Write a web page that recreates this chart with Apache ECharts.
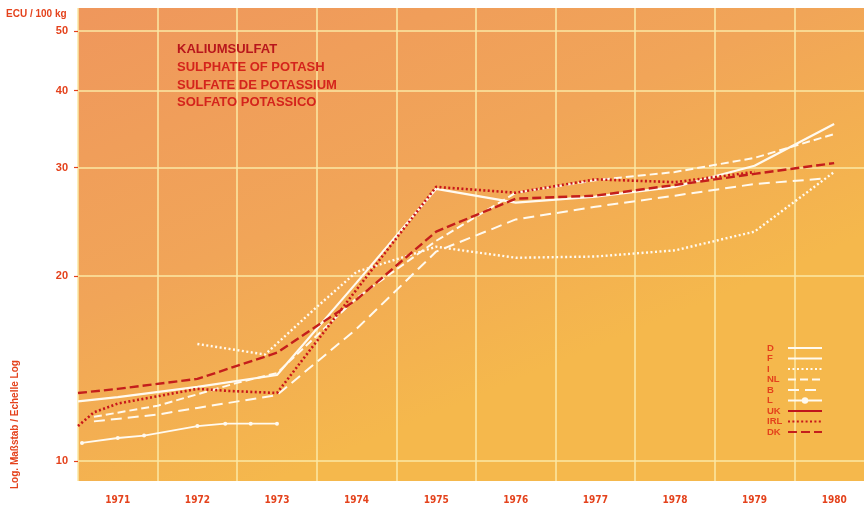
<!DOCTYPE html>
<html>
<head>
<meta charset="utf-8">
<script src="https://cdn.jsdelivr.net/npm/echarts@6/dist/echarts.min.js"></script>
<style>
html, body { margin: 0; padding: 0; background: #fff; }
#chart { width: 864px; height: 510px; }
</style>
</head>
<body>
<div id="chart"></div>
<script>
// year labels sit mid-year, grid lines between the years
const years = [1971, 1972, 1973, 1974, 1975, 1976, 1977, 1978, 1979, 1980]
const yearBounds = [1970.5, 1971.5, 1972.5, 1973.5, 1974.5, 1975.5, 1976.5, 1977.5, 1978.5, 1979.5]
const yTicks = [10, 20, 30, 40, 50]
const countries = ['D', 'F', 'I', 'NL', 'B', 'L', 'UK', 'IRL', 'DK']

// ECU / 100 kg, pairs of [year, price]
const dData = [[1970.5, 12.5], [1971, 12.7], [1972, 13.2], [1973, 13.8], [1974, 19.5], [1975, 27.7], [1976, 26.3], [1977, 26.9], [1978, 27.9], [1979, 30.2], [1980, 35.3]]
const fData = []
const iData = [[1972, 15.5], [1972.85, 14.9], [1973.5, 17.8], [1974, 20.3], [1975, 22.3], [1976, 21.4], [1977, 21.5], [1978, 22.0], [1979, 23.6], [1980, 29.5]]
const nlData = [[1970.7, 11.8], [1971.5, 12.3], [1972.5, 13.4], [1973, 13.9], [1974, 18.4], [1975, 22.8], [1976, 27.3], [1977, 28.6], [1978, 29.5], [1979, 31.1], [1980, 34.0]]
const bData = [[1970.7, 11.6], [1971.5, 11.9], [1972, 12.2], [1973, 12.8], [1974, 16.4], [1975, 21.9], [1976, 24.7], [1977, 25.9], [1978, 27.0], [1979, 28.2], [1979.9, 28.8]]
const lData = [[1970.55, 10.7], [1971, 10.9], [1971.33, 11.0], [1972, 11.4], [1972.35, 11.5], [1972.67, 11.5], [1973, 11.5]]
const ukData = []
const irlData = [[1970.5, 11.4], [1970.7, 12.0], [1971, 12.4], [1972, 13.1], [1972.4, 13.0], [1973, 12.9], [1974, 19.0], [1975, 27.9], [1976, 27.3], [1977, 28.7], [1978, 28.4], [1979, 29.5]]
const dkData = [[1970.5, 12.9], [1971, 13.1], [1972, 13.6], [1973, 15.0], [1974, 18.3], [1975, 23.6], [1976, 26.7], [1977, 27.0], [1978, 28.1], [1979, 29.3], [1980, 30.5]]

const RED = '#e4421c'
const WHITE = '#fffaf0'
const GRIDLINE = '#fbe8a4'
const NOMARK = { color: 'rgba(0,0,0,0)', borderColor: 'rgba(0,0,0,0)', borderWidth: 0 }

function line (name, data, color, width, type, extra) {
  return Object.assign({
    name: name,
    type: 'line',
    data: data,
    symbol: 'none',
    color: color,
    lineStyle: { color: color, width: width, type: type },
    animation: false
  }, extra || {})
}

const chart = echarts.init(document.getElementById('chart'))
chart.setOption({
  backgroundColor: '#ffffff',
  title: {
    left: 172,
    top: 36,
    text: '{a|KALIUMSULFAT}\n{b|SULPHATE OF POTASH}\n{b|SULFATE DE POTASSIUM}\n{b|SOLFATO POTASSICO}',
    textStyle: {
      rich: {
        a: { color: '#b8161c', fontSize: 13, fontFamily: 'Liberation Sans', lineHeight: 17.6 },
        b: { color: '#d4241c', fontSize: 13, fontFamily: 'Liberation Sans', lineHeight: 17.6 }
      }
    }
  },
  legend: {
    orient: 'vertical',
    left: 767,
    top: 343,
    align: 'right',
    itemWidth: 34,
    itemHeight: 8,
    itemGap: 0.5,
    padding: 0,
    itemStyle: NOMARK,
    data: countries.map(c => c === 'L'
      ? { name: c, itemStyle: { color: WHITE, borderWidth: 0 } }
      : { name: c }),
    formatter: name => '{n|' + name + '}',
    textStyle: {
      rich: {
        n: { width: 16, height: 10, lineHeight: 10, align: 'left', color: RED, fontSize: 9.5, fontWeight: 'bold', fontFamily: 'Liberation Sans' }
      }
    }
  },
  grid: { left: 78, right: 0, top: 8, bottom: 29, show: true, borderWidth: 0,
    backgroundColor: new echarts.graphic.LinearGradient(0, 0, 0.25, 1, [
      { offset: 0, color: '#ef975c' },
      { offset: 0.55, color: '#f1a558' },
      { offset: 1, color: '#f5b84c' }
    ])
  },
  xAxis: {
    type: 'value',
    min: 1970.5,
    max: 1980.375,
    axisLine: { show: false },
    axisTick: { show: false, customValues: yearBounds },
    axisLabel: {
      customValues: years,
      formatter: v => String(v),
      margin: 14,
      color: RED,
      fontSize: 10,
      fontWeight: 'bold',
      fontFamily: "'Liberation Sans Narrow', 'DejaVu Sans Condensed', sans-serif"
    },
    splitLine: { show: true, lineStyle: { color: GRIDLINE, width: 1.5 } }
  },
  yAxis: {
    type: 'log',
    logBase: 10,
    min: 9.28,
    max: 54.5,
    axisLine: { show: false },
    axisTick: { show: true, length: 4, customValues: yTicks, lineStyle: { color: RED, width: 1.2 } },
    axisLabel: {
      customValues: yTicks,
      margin: 10,
      color: RED,
      fontSize: 11,
      fontWeight: 'bold',
      fontFamily: 'Liberation Sans'
    },
    splitLine: { show: true, lineStyle: { color: GRIDLINE, width: 1.5 } }
  },
  graphic: [
    {
      type: 'text', left: 6, top: 9,
      style: { text: 'ECU / 100 kg', fill: RED, font: 'bold 10px "Liberation Sans Narrow", "Liberation Sans", sans-serif' }
    },
    {
      type: 'text', x: 10, y: 489, rotation: Math.PI / 2,
      style: { text: 'Log. Maßstab / Echelle Log', fill: RED, font: 'bold 10px "Liberation Sans Narrow", "Liberation Sans", sans-serif', textAlign: 'left', textVerticalAlign: 'top' }
    }
  ],
  series: [
    line('D', dData, WHITE, 2.2, 'solid'),
    line('F', fData, WHITE, 1.6, 'solid'),
    line('I', iData, WHITE, 2.4, [2, 2.5]),
    line('NL', nlData, WHITE, 2, [8, 4]),
    line('B', bData, WHITE, 2, [11, 6]),
    line('L', lData, WHITE, 1.8, 'solid', { symbol: 'circle', symbolSize: 4, showSymbol: true, itemStyle: { color: WHITE } }),
    line('UK', ukData, '#c0141c', 2.4, 'solid'),
    line('IRL', irlData, '#c8161a', 2.6, [2, 2.4]),
    line('DK', dkData, '#c41e1c', 2.4, [9, 4])
  ]
})
</script>
</body>
</html>
